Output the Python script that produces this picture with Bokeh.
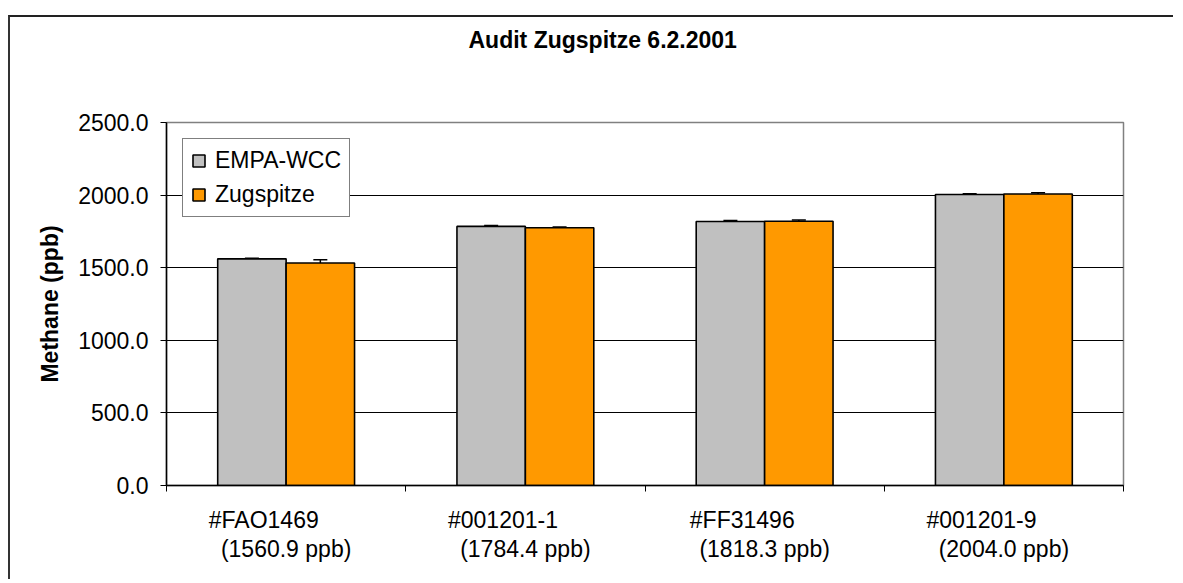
from bokeh.plotting import figure
from bokeh.models import (Range1d, FixedTicker, ColumnDataSource, Whisker, TeeHead, PrintfTickFormatter)
from bokeh.transform import dodge
from bokeh.embed import file_html
from bokeh.resources import INLINE

# ---- data ----
title_text = "Audit Zugspitze 6.2.2001"
samples = ["#FAO1469", "#001201-1", "#FF31496", "#001201-9"]
assigned = ["1560.9 ppb", "1784.4 ppb", "1818.3 ppb", "2004.0 ppb"]
empa = [1560.9, 1784.4, 1818.3, 2004.0]
empa_err = [5, 6, 6, 5]
zug = [1532.0, 1775.0, 1820.0, 2008.0]
zug_err = [22, 6, 9, 8]
y_ticks = [0, 500, 1000, 1500, 2000, 2500]
series_names = ["EMPA-WCC", "Zugspitze"]
series_colors = ["#C0C0C0", "#FF9900"]

FONT = "Liberation Sans"
FS = "23px"
NB = "\u00a0"

n = len(samples)
centres = [i + 0.5 for i in range(n)]
bounds = list(range(n + 1))
src = ColumnDataSource(dict(
    x=centres,
    empa=empa, empa_up=[v + e for v, e in zip(empa, empa_err)], empa_lo=[v - e for v, e in zip(empa, empa_err)],
    zug=zug, zug_up=[v + e for v, e in zip(zug, zug_err)], zug_lo=[v - e for v, e in zip(zug, zug_err)],
))

p = figure(width=1165, height=564, output_backend="svg", toolbar_location=None,
           x_range=Range1d(0, n), y_range=Range1d(0, 2500),
           min_border_left=156, min_border_right=52,
           min_border_top=105, min_border_bottom=96)
# outer chart frame: only its top and left edges fall inside the window
p.styles = {"margin-left": "8px", "margin-top": "15px",
            "border-top": "2px solid #222222", "border-left": "2px solid #333333"}

# title: two blank (non-breaking space) lines below it lift it higher above the plot area
p.title.text = title_text + "\n" + NB + "\n" + NB
p.title.text_font = FONT
p.title.text_font_size = FS
p.title.text_font_style = "bold"
p.title.text_color = "black"
p.title.text_line_height = 1.2
p.title.align = "left"
p.title.offset = 302
p.title.vertical_align = "top"
p.title.standoff = 12

off = 0.143
bw = 0.286
p.vbar(x=dodge("x", -off), top="empa", width=bw, source=src,
       fill_color=series_colors[0], line_color="black", line_width=1.6, legend_label=series_names[0])
p.vbar(x=dodge("x", off), top="zug", width=bw, source=src,
       fill_color=series_colors[1], line_color="black", line_width=1.6, legend_label=series_names[1])

for col, d in (("empa", -off), ("zug", off)):
    w = Whisker(source=src, base=dodge("x", d), upper=col + "_up", lower=col + "_lo",
                line_color="black", line_width=1.5,
                upper_head=TeeHead(size=14, line_color="black", line_width=1.5),
                lower_head=TeeHead(size=14, line_color="black", line_width=1.5))
    p.add_layout(w)

# x axis: labels at category centres, ticks at category boundaries
xaxis = p.xaxis[0]
xaxis.ticker = FixedTicker(ticks=centres, minor_ticks=bounds)
xaxis.major_label_overrides = {c: s + NB * 7 + "\n(" + a + ")" for c, s, a in zip(centres, samples, assigned)}
xaxis.major_tick_line_color = None
xaxis.minor_tick_line_color = "black"
xaxis.minor_tick_out = 6
xaxis.minor_tick_in = 0
xaxis.axis_line_color = "black"
xaxis.axis_line_width = 1.5
xaxis.major_label_text_font = FONT
xaxis.major_label_text_font_size = FS
xaxis.major_label_text_color = "black"
xaxis.major_label_text_line_height = 1.15
xaxis.major_label_standoff = 15

yax = p.yaxis[0]
yax.ticker = FixedTicker(ticks=y_ticks)
yax.formatter = PrintfTickFormatter(format="%.1f")
yax.minor_tick_line_color = None
yax.major_tick_out = 6
yax.major_tick_in = 0
yax.axis_line_color = "black"
yax.axis_line_width = 1.5
yax.major_label_text_font = FONT
yax.major_label_text_font_size = FS
yax.major_label_text_color = "black"
yax.major_label_standoff = 12
yax.axis_label = "Methane (ppb)"
yax.axis_label_text_font = FONT
yax.axis_label_text_font_size = FS
yax.axis_label_text_font_style = "bold"
yax.axis_label_text_color = "black"
yax.axis_label_standoff = 12

p.xgrid.visible = False
p.ygrid.ticker = FixedTicker(ticks=y_ticks)
p.ygrid.grid_line_color = "black"
p.ygrid.grid_line_width = 1
p.outline_line_color = "#808080"
p.outline_line_width = 1.5

leg = p.legend[0]
leg.location = "top_left"
leg.margin = 16
leg.padding = 8
leg.spacing = 7
leg.label_height = 27
leg.glyph_width = 15
leg.glyph_height = 15
leg.label_standoff = 9
leg.label_text_font = FONT
leg.label_text_font_size = FS
leg.label_text_color = "black"
leg.border_line_color = "black"
leg.border_line_width = 1
leg.background_fill_alpha = 1

open("out.html", "w").write(file_html(p, INLINE))
